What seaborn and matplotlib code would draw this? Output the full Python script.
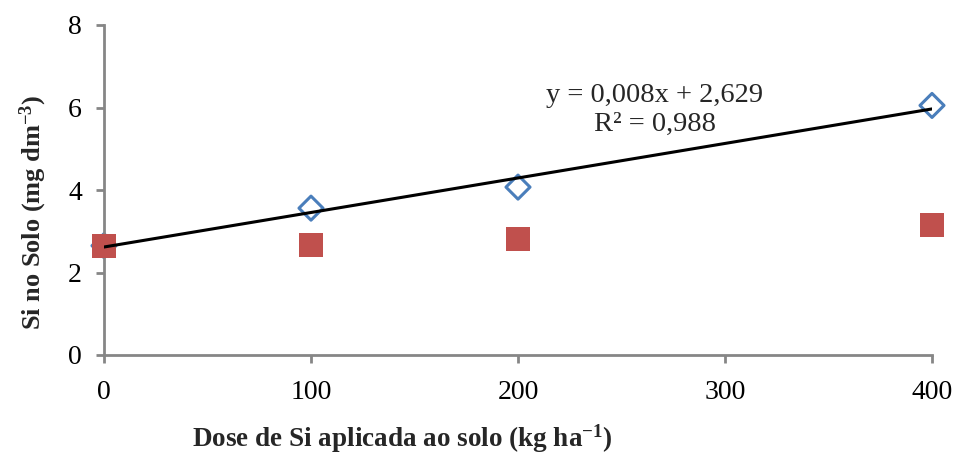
import numpy as np
import pandas as pd
import matplotlib
matplotlib.use("Agg")
import matplotlib.pyplot as plt
import seaborn as sns

# Data
doses = [0, 100, 200, 400]
si_blue = [2.65, 3.56, 4.07, 6.05]      # open diamonds (with trend line)
si_red = [2.64, 2.67, 2.81, 3.15]       # filled squares
x_ticks = [0, 100, 200, 300, 400]
y_ticks = [0, 2, 4, 6, 8]
eq_text = "y = 0,008x + 2,629"
r2_text = "R² = 0,988"
x_label = "Dose de Si aplicada ao solo (kg ha$^{-1}$)"
y_label = "Si no Solo (mg dm$^{-3}$)"

sns.set_theme(style="white")
plt.rcParams["font.family"] = ["Liberation Serif", "DejaVu Serif"]
plt.rcParams["mathtext.fontset"] = "custom"
plt.rcParams["mathtext.rm"] = "Liberation Serif:bold"
plt.rcParams["mathtext.default"] = "rm"

df_blue = pd.DataFrame({"dose": doses, "si": si_blue})
df_red = pd.DataFrame({"dose": doses, "si": si_red})

fig = plt.figure(figsize=(9.6, 4.57), dpi=100)
ax = fig.add_axes([104/960, 1-355/457, (932-104)/960, (355-25)/457])

sns.scatterplot(data=df_blue, x="dose", y="si", ax=ax, marker="D", s=150,
                facecolor="none", edgecolor="#4A7EBB", linewidth=2.2, zorder=2,
                clip_on=False)
sns.scatterplot(data=df_red, x="dose", y="si", ax=ax, marker="s", s=300,
                color="#C0504D", edgecolor="#C0504D", linewidth=0, zorder=3,
                clip_on=False)
sns.regplot(data=df_blue, x="dose", y="si", ax=ax, scatter=False, ci=None,
            truncate=True, line_kws=dict(color="black", lw=2.2, zorder=4))

ax.set_xlim(0, 400)
ax.set_ylim(0, 8)
ax.set_xticks(x_ticks)
ax.set_yticks(y_ticks)
ax.set_xlabel("")
ax.set_ylabel("")
for s in ["top", "right"]:
    ax.spines[s].set_visible(False)
for s in ["left", "bottom"]:
    ax.spines[s].set_color("#868686")
    ax.spines[s].set_linewidth(2)
ax.tick_params(axis="both", which="major", length=6, width=2, color="#868686",
               labelsize=20, labelcolor="black", direction="out")
ax.tick_params(axis="x", pad=12, bottom=True)
ax.tick_params(axis="y", pad=10, left=True)
ax.grid(False)

ax.text(266, 6.30, eq_text, fontsize=20.5, ha="center", va="center")
ax.text(266, 5.58, r2_text, fontsize=20.5, ha="center", va="center")

fig.text(402/960, 1-439/457, x_label, fontsize=19.5, fontweight="bold",
         ha="center", va="center")
fig.text(33/960, 1-212/457, y_label, fontsize=19, fontweight="bold",
         ha="center", va="center", rotation=90)

fig.savefig("out.png", dpi=100, facecolor="white")
